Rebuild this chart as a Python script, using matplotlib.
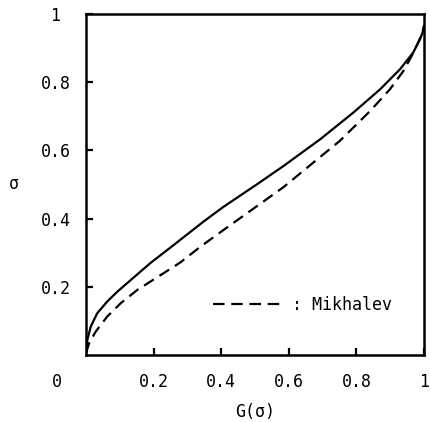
import numpy as np
import matplotlib.pyplot as plt

plt.rcParams['font.family'] = ['DejaVu Sans Mono']

# solid curve (present result)
g_solid = [0.0, 0.004, 0.014, 0.033, 0.063, 0.093, 0.142, 0.191, 0.251, 0.305,
           0.35, 0.406, 0.505, 0.584, 0.692, 0.791, 0.870, 0.929, 0.968, 0.988,
           0.996, 1.0]
s_solid = [0.0, 0.044, 0.083, 0.122, 0.157, 0.186, 0.228, 0.27, 0.316, 0.358,
           0.393, 0.434, 0.5, 0.554, 0.632, 0.711, 0.779, 0.838, 0.887, 0.926,
           0.946, 0.965]

# dashed curve (Mikhalev)
g_mikh = [0.0, 0.009, 0.029, 0.063, 0.103, 0.152, 0.211, 0.280, 0.339, 0.406,
          0.505, 0.584, 0.682, 0.751, 0.840, 0.899, 0.939, 0.964, 0.983, 0.995, 1.0]
s_mikh = [0.005, 0.034, 0.069, 0.113, 0.152, 0.191, 0.228, 0.272, 0.318, 0.366,
          0.436, 0.492, 0.572, 0.628, 0.715, 0.779, 0.833, 0.878, 0.917, 0.945, 0.965]

ticks = [0.2, 0.4, 0.6, 0.8, 1.0]
tick_labels = ['0.2', '0.4', '0.6', '0.8', '1']

fig = plt.figure(figsize=(4.31, 4.22), dpi=100)
ax = fig.add_axes([0.1995, 0.1588, 0.7843, 0.808])

ax.plot(g_solid, s_solid, color='black', lw=1.6)
ax.plot(g_mikh, s_mikh, color='black', lw=1.6, ls=(0, (5.2, 3.0)), label=': Mikhalev')

ax.set_xlim(0, 1)
ax.set_ylim(0, 1)
ax.set_xticks(ticks)
ax.set_xticklabels(tick_labels)
ax.set_yticks(ticks)
ax.set_yticklabels(tick_labels, ha='center')
ax.tick_params(direction='in', length=5, width=1.6, labelsize=12)
ax.tick_params(axis='x', pad=13)
ax.tick_params(axis='y', pad=22)
for sp in ax.spines.values():
    sp.set_linewidth(1.8)

ax.text(-0.086, -0.079, '0', fontsize=12, ha='center', va='center',
        transform=ax.transAxes)
ax.set_xlabel('G(σ)', fontsize=12, va='center')
ax.xaxis.set_label_coords(0.5, -0.168)
ax.set_ylabel('σ', fontsize=12, rotation=0, ha='center', va='center')
ax.yaxis.set_label_coords(-0.213, 0.5)

ax.legend(loc='center left', bbox_to_anchor=(0.376, 0.147), frameon=False,
          borderpad=0, borderaxespad=0, handlelength=4.4, handletextpad=0.35,
          prop={'size': 12})

fig.savefig('out.png', dpi=100)
